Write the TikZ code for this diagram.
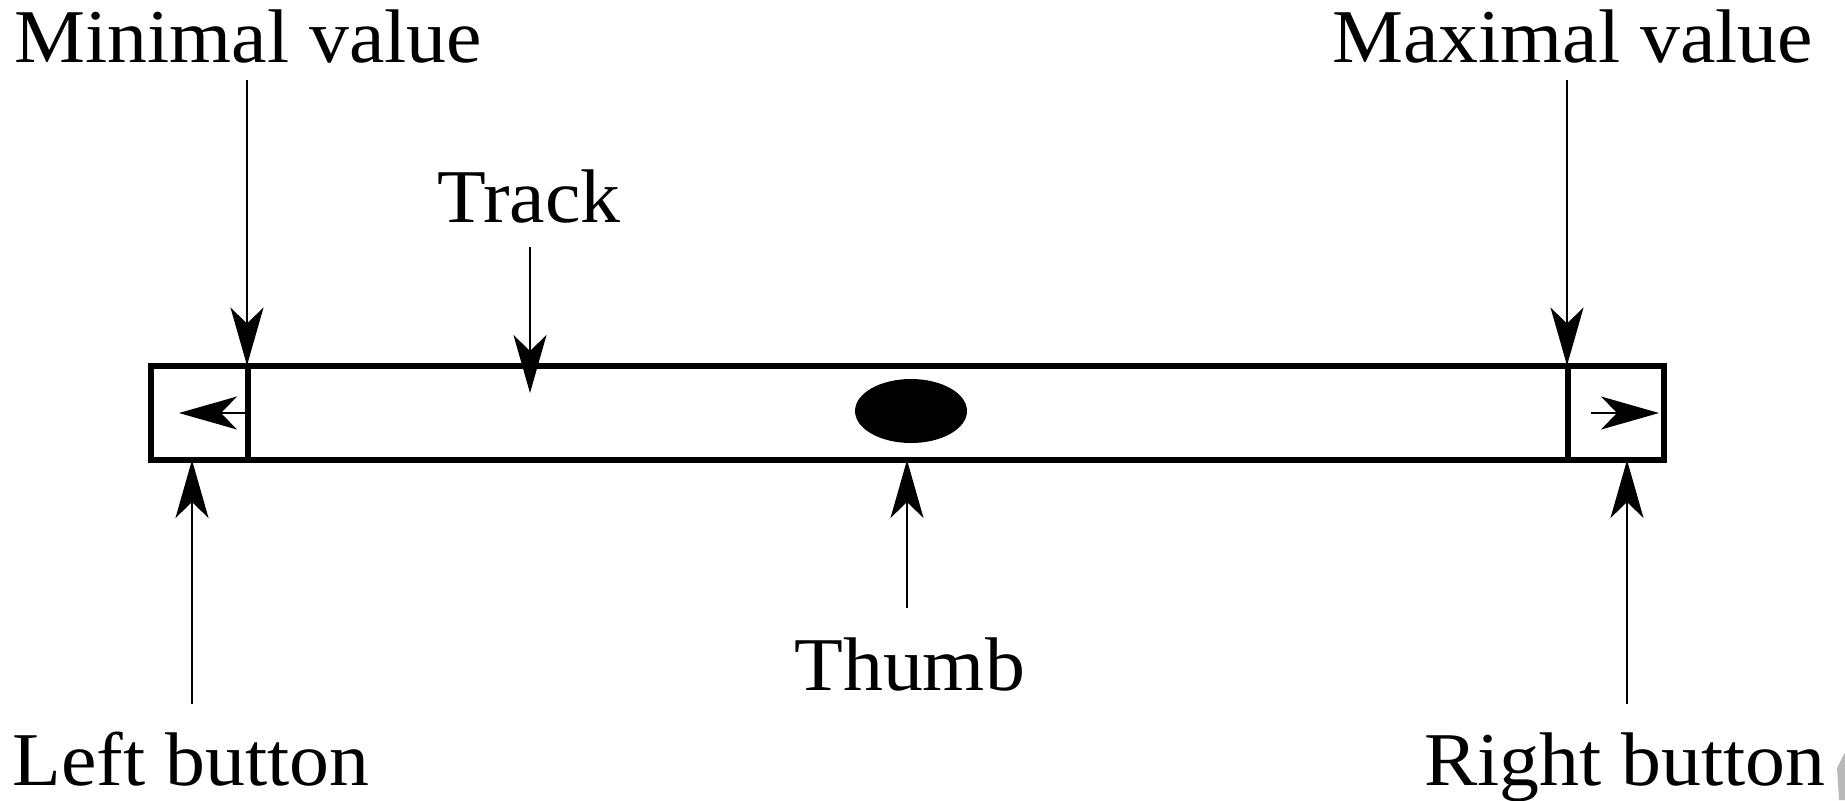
\documentclass[tikz,border=0pt]{standalone}
\usepackage{fontspec}
\setmainfont[FakeStretch=1.05]{Liberation Serif}
\usetikzlibrary{arrows.meta}
\begin{document}
\begin{tikzpicture}[x=0.5pt,y=-0.5pt,
  lbl/.style={anchor=base west,inner sep=0pt,font=\fontsize{38}{45}\selectfont},
  barline/.style={line width=3pt},
  pointer/.style={line width=1pt,-{Stealth[length=29pt,width=16.5pt,inset=8pt]}}]
\useasboundingbox (0,0) rectangle (1845,800);
% texts
\node[lbl] (minv) at (14,62) {Minimal value};
\node[lbl] (maxv) at (1332,62) {Maximal value};
\node[lbl] (track) at (437,222) {Track};
\node[lbl] (thumbt) at (794,690) {Thumb};
\node[lbl] (leftb) at (12,785) {Left button};
\node[lbl] (rightb) at (1424,785) {Right button};
% bar
\coordinate (bnw) at (151,365.5);
\coordinate (bse) at (1664,460);
\draw[barline] (bnw) rectangle (bse);
\coordinate (dlt) at (248,365.5); \coordinate (dlb) at (248,460);
\coordinate (drt) at (1568,365.5); \coordinate (drb) at (1568,460);
\draw[barline] (dlt) -- (dlb);
\draw[barline] (drt) -- (drb);
% thumb
\fill (911,411) ellipse[x radius=56, y radius=32] node (thumb) {};
% inner arrows
\coordinate (ila) at (248,413); \coordinate (ilb) at (179,413);
\coordinate (ira) at (1591,413); \coordinate (irb) at (1659,413);
\draw[pointer] (ila) -- (ilb);
\draw[pointer] (ira) -- (irb);
% pointers
\coordinate (p1a) at (247,80);  \coordinate (p1b) at (247,365.5);
\coordinate (p2a) at (530,247); \coordinate (p2b) at (530,393);
\coordinate (p3a) at (1567,80); \coordinate (p3b) at (1567,365.5);
\coordinate (p4a) at (192,704); \coordinate (p4b) at (192,460);
\coordinate (p5a) at (907,608); \coordinate (p5b) at (907,460);
\coordinate (p6a) at (1627,704); \coordinate (p6b) at (1627,460);
\draw[pointer] (p1a) -- (p1b);
\draw[pointer] (p2a) -- (p2b);
\draw[pointer] (p3a) -- (p3b);
\draw[pointer] (p4a) -- (p4b);
\draw[pointer] (p5a) -- (p5b);
\draw[pointer] (p6a) -- (p6b);
% scan artifact
\fill[gray!55] (1845,752) -- (1837,768) -- (1839,800) -- (1845,800) -- cycle;
\end{tikzpicture}
\end{document}
